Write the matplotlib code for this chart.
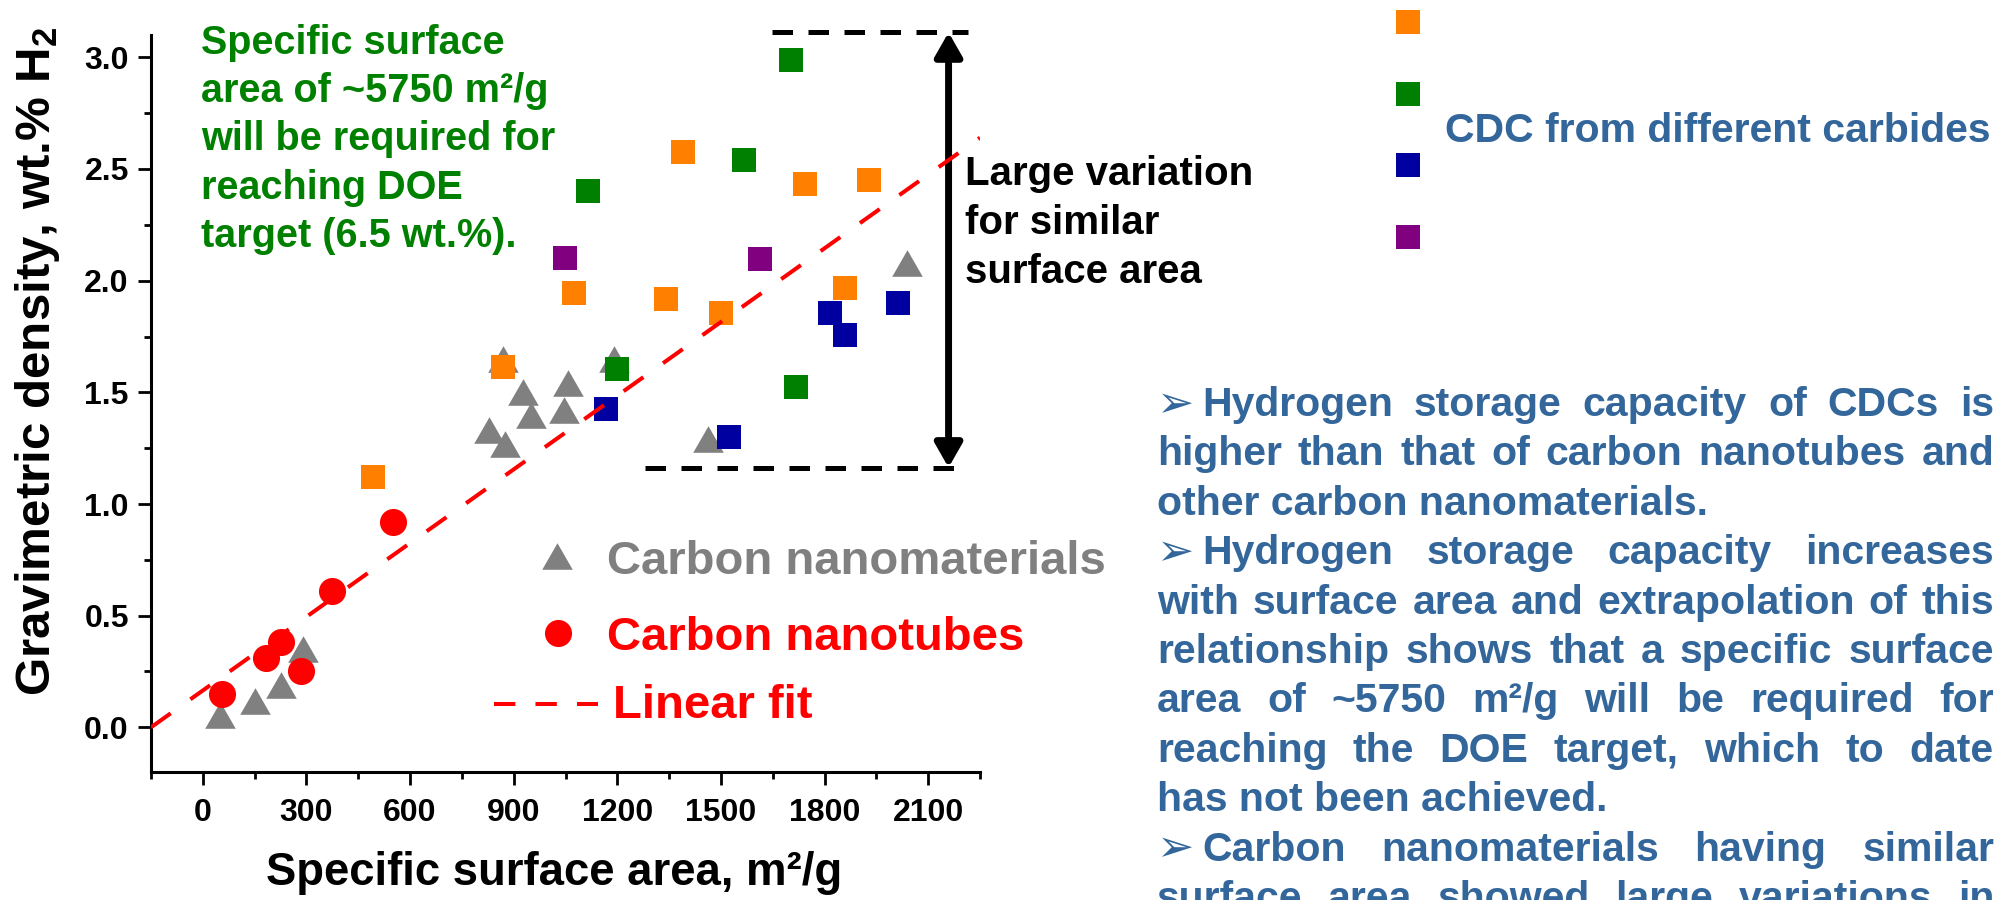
"""
Hydrogen uptake vs specific surface area for CDCs, nanotubes and other carbons.
"""
import matplotlib
matplotlib.use("Agg")
import matplotlib.pyplot as plt
from matplotlib.patches import FancyArrowPatch
from matplotlib.ticker import MultipleLocator, FormatStrFormatter
import numpy as np

plt.rcParams['font.family'] = ['Liberation Sans', 'DejaVu Sans']
plt.rcParams['font.weight'] = 'bold'
plt.rcParams['mathtext.fontset'] = 'custom'
plt.rcParams['mathtext.rm'] = 'Liberation Sans:bold'
plt.rcParams['mathtext.bf'] = 'Liberation Sans:bold'
plt.rcParams['mathtext.it'] = 'Liberation Sans:bold'

# ---- data ----
cnt_area = [56, 184, 225, 284, 375, 552]
cnt_h2 = [0.15, 0.31, 0.38, 0.25, 0.61, 0.92]

nano_area = [49, 150, 226, 291, 828, 869, 876, 926, 949, 1047, 1056, 1190, 1462, 2040]
nano_h2 = [0.055, 0.12, 0.19, 0.35, 1.33, 1.65, 1.27, 1.50, 1.40, 1.42, 1.54, 1.65, 1.29, 2.08]

orange_area = [493, 870, 1074, 1342, 1389, 1501, 1743, 1859, 1929]
orange_h2 = [1.12, 1.615, 1.945, 1.92, 2.575, 1.855, 2.435, 1.965, 2.45]
green_area = [1115, 1200, 1567, 1703, 1716]
green_h2 = [2.40, 1.605, 2.54, 2.99, 1.525]
blue_area = [1166, 1522, 1817, 1859, 2014]
blue_h2 = [1.425, 1.30, 1.855, 1.755, 1.90]
purple_area = [1048, 1614]
purple_h2 = [2.10, 2.095]

fit_slope = 0.0011
fit_intercept = 0.165

variation_low = 1.163
variation_high = 3.112

x_ticks = [0, 300, 600, 900, 1200, 1500, 1800, 2100]

ORANGE = '#FF8000'
GREEN = '#008000'
BLUE = '#0000A0'
PURPLE = '#800080'
GRAY = '#808080'
RED = '#FF0000'
TEXT_BLUE = '#33669A'

W, H = 2013, 900
fig = plt.figure(figsize=(W / 100, H / 100), dpi=100)
ax = fig.add_axes([151 / W, 1 - 772 / H, (980 - 151) / W, (772 - 35) / H])

tri = [(-1, -0.87), (1, -0.87), (0, 0.87)]
ax.plot(nano_area, nano_h2, linestyle='none', marker=tri, markersize=22,
        color=GRAY, markeredgewidth=0, zorder=2)
ax.plot(cnt_area, cnt_h2, linestyle='none', marker='o', markersize=19.5,
        color=RED, markeredgewidth=0, zorder=3)
for xs, ys, c in [(orange_area, orange_h2, ORANGE), (green_area, green_h2, GREEN),
                  (blue_area, blue_h2, BLUE), (purple_area, purple_h2, PURPLE)]:
    ax.plot(xs, ys, linestyle='none', marker='s', markersize=17.5,
            color=c, markeredgewidth=0, zorder=4)

xlim = (-150, 2250)
fit_x = np.array(xlim)
ax.plot(fit_x, fit_slope * fit_x + fit_intercept, color=RED, lw=2.9,
        dashes=(6, 6), zorder=5)

ax.set_xlim(*xlim)
ax.set_ylim(-0.2, 3.1)
ax.set_xticks(x_ticks)
ax.xaxis.set_minor_locator(MultipleLocator(150))
ax.yaxis.set_major_locator(MultipleLocator(0.5))
ax.yaxis.set_minor_locator(MultipleLocator(0.25))
ax.yaxis.set_major_formatter(FormatStrFormatter('%.1f'))
for s in ['top', 'right']:
    ax.spines[s].set_visible(False)
for s in ['left', 'bottom']:
    ax.spines[s].set_linewidth(2.2)
ax.tick_params(which='major', length=9.5, width=2, direction='out', labelsize=23)
ax.tick_params(which='minor', length=5, width=2, direction='out')
ax.tick_params(axis='x', which='major', pad=9)
ax.tick_params(axis='y', which='major', pad=6.5)
for lab in ax.get_xticklabels() + ax.get_yticklabels():
    lab.set_fontweight('bold')

# bracket showing the spread at similar surface area
ax.plot([1649, 2214], [variation_high] * 2, color='black', lw=3.6,
        dashes=(4.1, 3.1), clip_on=False)
ax.plot([1279, 2178], [variation_low] * 2, color='black', lw=3.6,
        dashes=(4.1, 3.1), clip_on=False)
arr = FancyArrowPatch((2159, variation_low), (2159, variation_high),
                      arrowstyle='<|-|>,head_length=0.72,head_width=0.41',
                      mutation_scale=20, lw=5, color='black',
                      shrinkA=0, shrinkB=0, clip_on=False)
ax.add_patch(arr)

# overlay in figure pixels for the free text
ov = fig.add_axes([0, 0, 1, 1])
ov.set_xlim(0, W)
ov.set_ylim(H, 0)
ov.axis('off')
ov.patch.set_visible(False)


def put(s, x, y, size, color, **kw):
    return ov.text(x, y, s, fontsize=size, color=color, fontweight='bold',
                   ha='left', va='baseline', **kw)


fig.text(554.5 / W, 1 - 885 / H, 'Specific surface area, m²/g', fontsize=32.8,
         fontweight='bold', ha='center', va='baseline')
fig.text(38 / W, 1 - 362 / H, r'Gravimetric density, wt.% H$_2$', fontsize=35.5,
         fontweight='bold', ha='center', va='center', rotation=90)

green_lines = ['Specific surface', 'area of ~5750 m²/g', 'will be required for',
               'reaching DOE', 'target (6.5 wt.%).']
for i, line in enumerate(green_lines):
    put(line, 201, 53.5 + 48.4 * i, 28.5, GREEN)

black_lines = ['Large variation', 'for similar', 'surface area']
for i, line in enumerate(black_lines):
    put(line, 965, 185 + 48.8 * i, 29, 'black')

# in-plot legend
ov.plot([556.7], [556], linestyle='none', marker=tri, markersize=22,
        color=GRAY, markeredgewidth=0)
put('Carbon nanomaterials', 606.7, 574, 34, GRAY)
ov.plot([557.8], [632.5], linestyle='none', marker='o', markersize=19.5,
        color=RED, markeredgewidth=0)
put('Carbon nanotubes', 607, 650, 34, RED)
ov.plot([494, 598], [704, 704], color=RED, lw=2.9, dashes=(5.3, 5))
put('Linear fit', 613, 718, 34, RED)

# CDC legend keys
for i, c in enumerate([ORANGE, GREEN, BLUE, PURPLE]):
    ov.plot([1407.5], [21.8 + 71.7 * i], linestyle='none', marker='s',
            markersize=17.5, color=c, markeredgewidth=0)
put('CDC from different carbides', 1445, 142, 29.5, TEXT_BLUE)

# justified bullet paragraph
para = [
    ('bullet', 'Hydrogen storage capacity of CDCs is'),
    ('just', 'higher than that of carbon nanotubes and'),
    ('last', 'other carbon nanomaterials.'),
    ('bullet', 'Hydrogen storage capacity increases'),
    ('just', 'with surface area and extrapolation of this'),
    ('just', 'relationship shows that a specific surface'),
    ('just', 'area of ~5750 m²/g will be required for'),
    ('just', 'reaching the DOE target, which to date'),
    ('last', 'has not been achieved.'),
    ('bullet', 'Carbon nanomaterials having similar'),
    ('just', 'surface area showed large variations in'),
]
para_left, para_right = 1157, 1994
renderer = fig.canvas.get_renderer()
for i, (kind, line) in enumerate(para):
    y = 416 + 49.4 * i
    x0 = para_left
    if kind == 'bullet':
        ov.text(1156, y + 1, '➢', fontsize=32, color=TEXT_BLUE, ha='left',
                va='baseline', family=['DejaVu Sans'])
        x0 = 1202
    if kind == 'last':
        put(line, x0, y, 29.5, TEXT_BLUE)
        continue
    words = [put(w, x0, y, 29.5, TEXT_BLUE) for w in line.split()]
    widths = [t.get_window_extent(renderer).width for t in words]
    gap = (para_right - x0 - sum(widths)) / (len(words) - 1)
    x = x0
    for t, w in zip(words, widths):
        t.set_x(x)
        x += w + gap

fig.savefig('out.png', dpi=100)
